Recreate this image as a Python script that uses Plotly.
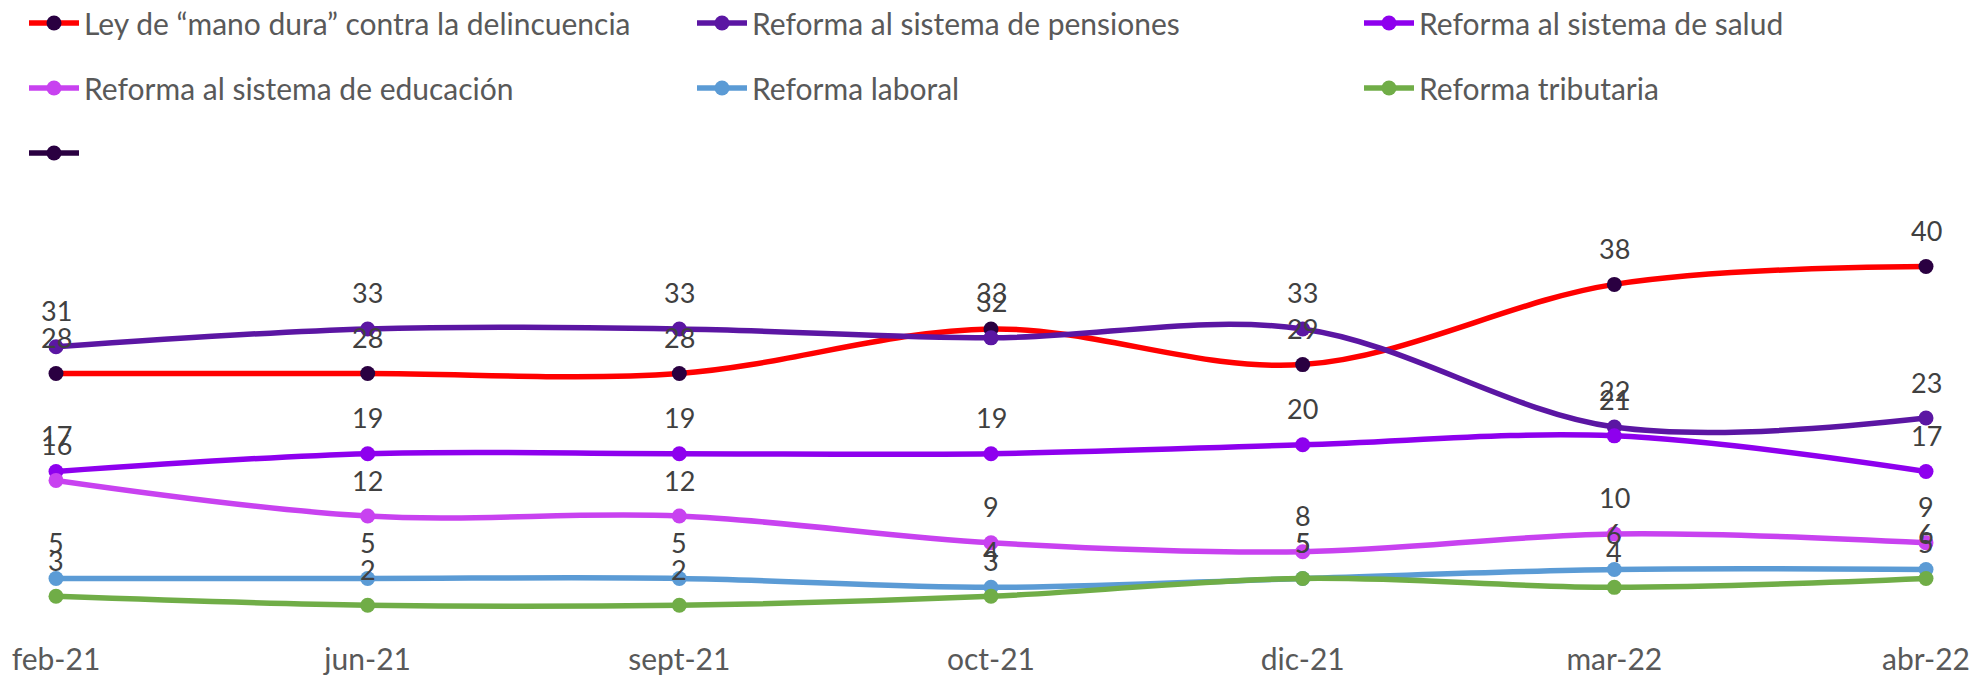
import plotly.graph_objects as go

meses = ['feb-21', 'jun-21', 'sept-21', 'oct-21', 'dic-21', 'mar-22', 'abr-22']

ley_mano_dura = [28, 28, 28, 33, 29, 38, 40]
pensiones = [31, 33, 33, 32, 33, 22, 23]
salud = [17, 19, 19, 19, 20, 21, 17]
educacion = [16, 12, 12, 9, 8, 10, 9]
laboral = [5, 5, 5, 4, 5, 6, 6]
tributaria = [3, 2, 2, 3, 5, 4, 5]

# nombre, valores, color de línea, color de marcador, (columna, fila) en la leyenda
series = [
    ('Ley de “mano dura” contra la delincuencia', ley_mano_dura, '#FF0000', '#2A0041', (0, 0)),
    ('Reforma al sistema de pensiones', pensiones, '#5B16A3', '#5B16A3', (1, 0)),
    ('Reforma al sistema de salud', salud, '#8E00EE', '#8E00EE', (2, 0)),
    ('Reforma al sistema de educación', educacion, '#C842F0', '#C842F0', (0, 1)),
    ('Reforma laboral', laboral, '#5B9BD5', '#5B9BD5', (1, 1)),
    ('Reforma tributaria', tributaria, '#70AD47', '#70AD47', (2, 1)),
]

FONT = 'Lato'
PAD = 8  # margen del <body> de la página
W, H = 1980 - PAD, 678 - PAD
M = dict(l=56 - PAD, r=54, t=222 - PAD, b=55, autoexpand=False)
PW = W - M['l'] - M['r']
PH = H - M['t'] - M['b']

# posiciones de la leyenda en píxeles de página (borde izquierdo de la columna, centro de la fila)
col_px = [24, 692, 1359]
row_px = [23, 88, 153]


def legend_pos(col, row):
    return dict(
        orientation='h', xanchor='left', yanchor='middle',
        x=(col_px[col] - PAD - M['l']) / PW,
        y=(H - M['b'] - (row_px[row] - PAD)) / PH,
        font=dict(family=FONT, size=30, color='#595959'),
        bgcolor='rgba(0,0,0,0)', itemwidth=50,
    )


fig = go.Figure()
legends = {}
for i, (name, vals, col, mcol, pos) in enumerate(series):
    lid = 'legend' if i == 0 else f'legend{i + 1}'
    legends[lid] = legend_pos(*pos)
    fig.add_trace(go.Scatter(
        x=meses, y=vals, name=name, legend=lid,
        mode='lines+markers',
        line=dict(color=col, width=5.5, shape='spline', smoothing=1.0),
        marker=dict(color=mcol, size=15),
        cliponaxis=False,
    ))
    for m, v in zip(meses, vals):
        fig.add_annotation(
            x=m, y=v, text=str(v), showarrow=False, yshift=36,
            font=dict(family=FONT, size=27, color='#404040'),
        )

# serie sin nombre que aparece solo en la leyenda
legends['legend7'] = legend_pos(0, 2)
fig.add_trace(go.Scatter(
    x=[None], y=[None], name='', legend='legend7',
    mode='lines+markers',
    line=dict(color='#2A0041', width=5.5),
    marker=dict(color='#2A0041', size=15),
))

fig.update_layout(
    width=W, height=H,
    margin=M,
    plot_bgcolor='white', paper_bgcolor='white',
    showlegend=True,
    xaxis=dict(
        range=[0, 6], showgrid=False, zeroline=False, showline=False,
        ticks='', ticklabelstandoff=16,
        tickfont=dict(family=FONT, size=30, color='#595959'),
    ),
    yaxis=dict(range=[0, 45], visible=False),
    **legends,
)

fig.write_html('out.html')
